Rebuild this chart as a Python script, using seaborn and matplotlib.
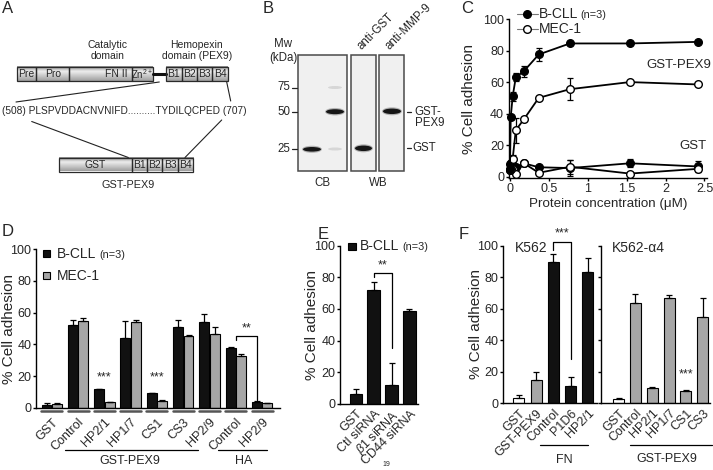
import numpy as np
import pandas as pd
import matplotlib
matplotlib.use("Agg")
import matplotlib.pyplot as plt
import matplotlib.transforms as mtrans
from matplotlib.patches import Rectangle, Ellipse
from matplotlib.lines import Line2D
import seaborn as sns

sns.set_style("ticks")
plt.rcParams["font.family"] = ["Liberation Sans", "DejaVu Sans"]
plt.rcParams["mathtext.fontset"] = "custom"
plt.rcParams["mathtext.rm"] = "Liberation Sans"
plt.rcParams["mathtext.it"] = "Liberation Sans:italic"
plt.rcParams["axes.edgecolor"] = "black"

# ---------------- data ----------------
# Panel A (domain labels)
a_top_domains = ["Pre", "Pro", "FN II", "Zn$^{2+}$"]
a_pex_blades = ["B1", "B2", "B3", "B4"]
a_sequence = "(508) PLSPVDDACNVNIFD..........TYDILQCPED (707)"
# Panel B
b_mw_ticks = [75, 50, 25]
# Panel C
c_conc = [0, 0.01, 0.035, 0.075, 0.18, 0.37, 0.77, 1.54, 2.42]
c_bcll_pex9 = [5, 38, 51, 63, 67, 77.5, 84.5, 84.5, 85.5]
c_bcll_pex9_err = [0, 0, 3, 2.5, 3.5, 4, 1, 1, 1]
c_mec1_pex9 = [4, 5, 11.5, 29.5, 36.5, 50, 55.5, 60, 58.5]
c_mec1_pex9_err = [0, 0, 2, 8, 1, 1, 7, 1, 1]
c_bcll_gst = [8, 8.5, 7, 6, 8.5, 6, 5.5, 8.5, 6.5]
c_bcll_gst_err = [0, 0, 1, 1, 1, 1, 5, 2.5, 3.5]
c_mec1_gst = [4, 5.5, 5, 2, 8.5, 2.5, 6.3, 2, 5]
c_mec1_gst_err = [0, 0, 1, 1, 1, 1, 4.5, 0.5, 1]
c_xticks = [0, 0.5, 1, 1.5, 2, 2.5]
c_xticklabels = ["0", "0.5", "1", "1.5", "2", "2.5"]
# Panel D
d_keys = ["GST", "Control", "HP2/1", "HP1/7", "CS1", "CS3", "HP2/9", "HA Control", "HA HP2/9"]
d_labels = ["GST", "Control", "HP2/1", "HP1/7", "CS1", "CS3", "HP2/9", "Control", "HP2/9"]
d_bcll = [2, 52, 11.6, 43.8, 9, 51, 54, 38, 3.8]
d_bcll_err = [1, 3.2, 0.3, 11, 0.3, 4.2, 5, 0.3, 0.2]
d_mec1 = [2.5, 55, 3.4, 53.9, 4.2, 45.3, 46.5, 32.4, 2.7]
d_mec1_err = [0.6, 1.5, 0.4, 1.5, 0.6, 0.3, 4.2, 1.3, 0.5]
# Panel E
e_keys = ["GST", "Ctl siRNA", r"$\beta$1 siRNA", "CD44 siRNA"]
e_vals = [6, 72, 12, 58.6]
e_errs = [3, 5.2, 13.5, 1.3]
# Panel F
f_left_keys = ["GST", "GST-PEX9", "Control", "P1D6", "HP2/1"]
f_left_vals = [3, 14.4, 89.8, 10.6, 83.5]
f_left_errs = [1.9, 5.5, 4.7, 6.1, 8.4]
f_right_keys = ["GST", "Control", "HP2/1", "HP1/7", "CS1", "CS3"]
f_right_vals = [2.5, 63.3, 9.5, 66.9, 7.6, 54.4]
f_right_errs = [0.4, 5.7, 0.4, 1.7, 0.4, 12.5]

BLACK = "#111111"
GRAY = "#a6a6a6"
W, H = 713, 470
fig = plt.figure(figsize=(W / 100, H / 100), dpi=100)


def R(l, t, r, b):
    return [l / W, (H - b) / H, (r - l) / W, (b - t) / H]


def style(ax):
    sns.despine(ax=ax)
    ax.tick_params(axis="both", labelsize=9, length=2.2, width=1, color="black", pad=1.2)
    for s in ("left", "bottom"):
        ax.spines[s].set_linewidth(1)
        ax.spines[s].set_color("black")
    ax.set_facecolor("none")


def bar_errs(ax, errs):
    patches = sorted([p for c in ax.containers if isinstance(c, matplotlib.container.BarContainer)
                      for p in c.patches], key=lambda p: p.get_x())
    xs = [p.get_x() + p.get_width() / 2 for p in patches]
    hs = [p.get_height() for p in patches]
    ax.errorbar(xs, hs, yerr=[np.zeros(len(errs)), errs], fmt="none", ecolor="black",
                elinewidth=0.9, capsize=2.5, capthick=0.9, zorder=3)


# overlay in pixel coordinates
ov = fig.add_axes([0, 0, 1, 1], zorder=5)
ov.set_xlim(0, W)
ov.set_ylim(H, 0)
ov.set_autoscale_on(False)
ov.axis("off")

# ---------------- Panel A ----------------
prof_y = np.linspace(0, 1, 40)
prof = np.interp(prof_y, [0, 0.35, 1], [0.55, 0.93, 0.62])
grad = np.tile(prof[:, None], (1, 2))


def gbox(x0, x1, y0, y1, label, tx=None, fs=7.5):
    ov.imshow(grad, extent=(x0, x1, y1, y0), cmap="gray", vmin=0, vmax=1, aspect="auto",
              interpolation="bilinear", zorder=1)
    ov.add_patch(Rectangle((x0, y0), x1 - x0, y1 - y0, fill=False, ec="#2a2a2a", lw=0.9, zorder=2))
    ov.text((x0 + x1) / 2 if tx is None else tx, (y0 + y1) / 2 + 0.5, label, ha="center", va="center",
            fontsize=fs, zorder=3)


ty0, ty1 = 66.5, 81
edges_top = [17.3, 36, 69.3, 131.7, 152.7]
tx_top = [None, None, 116, None]
for i, lab in enumerate(a_top_domains):
    gbox(edges_top[i], edges_top[i + 1], ty0, ty1, lab, tx_top[i], fs=7.5 if i < 3 else 7)
ov.add_line(Line2D([152.7, 165.7], [73.5, 73.5], color="#111", lw=2.2, zorder=2))
edges_b = [165.7, 181.7, 196.7, 212.3, 227.7]
for i, lab in enumerate(a_pex_blades):
    gbox(edges_b[i], edges_b[i + 1], ty0, ty1, lab, fs=7.5)
ov.text(108, 45, "Catalytic", ha="center", va="center", fontsize=7.5)
ov.text(108, 56, "domain", ha="center", va="center", fontsize=7.5)
ov.text(196.7, 45, "Hemopexin", ha="center", va="center", fontsize=7.5)
ov.text(196.7, 56, "domain (PEX9)", ha="center", va="center", fontsize=7.5)
ov.add_line(Line2D([159.3, 16], [82, 102], color="#222", lw=0.8))
ov.add_line(Line2D([226.7, 230.7], [82, 101], color="#222", lw=0.8))
ov.text(1.5, 111.5, a_sequence, ha="left", va="center", fontsize=7.3)
ov.add_line(Line2D([31.7, 128.3], [121.5, 157.5], color="#222", lw=0.8))
ov.add_line(Line2D([221.7, 185], [120, 157.5], color="#222", lw=0.8))
gy0, gy1 = 157.5, 171.5
edges_g = [59.3, 131.7, 146.7, 162.3, 177.7, 193.3]
for i, lab in enumerate(["GST"] + a_pex_blades):
    gbox(edges_g[i], edges_g[i + 1], gy0, gy1, lab, fs=7.5)
ov.text(127.7, 184.5, "GST-PEX9", ha="center", va="center", fontsize=7.8)

# ---------------- Panel B ----------------
gels = [(298.3, 346.7), (351.3, 375.7), (379.3, 404)]
gy_top, gy_bot = 55, 170.7
for x0, x1 in gels:
    ov.add_patch(Rectangle((x0, gy_top), x1 - x0, gy_bot - gy_top, fc="#f0f0f0", ec="#4a4a4a", lw=1.1, zorder=1))
mw_y = {75: 87.5, 50: 111.7, 25: 149}
for m in b_mw_ticks:
    ov.add_line(Line2D([291.7, 297.3], [mw_y[m], mw_y[m]], color="#222", lw=0.9))
    ov.text(290, mw_y[m], str(m), ha="right", va="center", fontsize=8.3)
ov.text(283, 44, "Mw", ha="center", va="center", fontsize=8.3)
ov.text(283, 58.5, "(kDa)", ha="center", va="center", fontsize=8.3)


def band(xc, yc, w, h, dark=True):
    if dark:
        ov.add_patch(Ellipse((xc, yc), w + 2, h + 2.5, fc="#777", ec="none", alpha=0.5, zorder=2))
        ov.add_patch(Ellipse((xc, yc), w, h, fc="#161616", ec="none", zorder=3))
    else:
        ov.add_patch(Ellipse((xc, yc), w, h, fc="#d6d6d6", ec="none", zorder=2))


band(312, 149.3, 18, 4.6)
band(335, 111.7, 18, 5)
band(335, 87.5, 14, 3, dark=False)
band(335, 149, 14, 3, dark=False)
band(363.5, 148.3, 17, 5.5)
band(392, 111.3, 18, 5.5)
ov.text(322.5, 182.5, "CB", ha="center", va="center", fontsize=8.3)
ov.text(378, 182.5, "WB", ha="center", va="center", fontsize=8.3)
ov.text(362, 50, "anti-GST", rotation=45, rotation_mode="anchor", ha="left", va="baseline", fontsize=8.3)
ov.text(390, 50, "anti-MMP-9", rotation=45, rotation_mode="anchor", ha="left", va="baseline", fontsize=8.3)
ov.add_line(Line2D([406.7, 411.2], [111.7, 111.7], color="#222", lw=0.9))
ov.text(414.5, 111.7, "GST-", ha="left", va="center", fontsize=8.3)
ov.text(414.5, 123.5, "PEX9", ha="left", va="center", fontsize=8.3)
ov.add_line(Line2D([406.7, 411.2], [148.3, 148.3], color="#222", lw=0.9))
ov.text(412.5, 148.3, "GST", ha="left", va="center", fontsize=8.3)

# ---------------- Panel C ----------------
axC = fig.add_axes(R(508.8, 19, 706.8, 178.3))
c_series = [(c_bcll_gst, c_bcll_gst_err, "black"), (c_mec1_gst, c_mec1_gst_err, "white"),
            (c_mec1_pex9, c_mec1_pex9_err, "white"), (c_bcll_pex9, c_bcll_pex9_err, "black")]
for vals, errs, fc in c_series:
    axC.errorbar(c_conc, vals, yerr=errs, fmt="none", ecolor="black", elinewidth=0.9,
                 capsize=2.3, capthick=0.9, zorder=2, clip_on=False)
    sns.lineplot(x=c_conc, y=vals, ax=axC, color="black", linewidth=1.3, marker="o",
                 markersize=5.5, markerfacecolor=fc, markeredgecolor="black",
                 markeredgewidth=1.0, zorder=3, clip_on=False)
axC.set_xlim(-0.015, 2.53)
axC.set_ylim(-1, 100)
axC.set_xticks(c_xticks)
axC.set_xticklabels(c_xticklabels)
axC.set_yticks([0, 20, 40, 60, 80, 100])
style(axC)
axC.set_xlabel("Protein concentration (\u03bcM)", fontsize=9.6)
axC.xaxis.set_label_coords(0.5, -0.125)
axC.set_ylabel("% Cell adhesion", fontsize=11)
axC.yaxis.set_label_coords(-0.165, 0.5)
ov.text(678.5, 65, "GST-PEX9", ha="center", va="center", fontsize=9.5)
ov.text(693, 145.7, "GST", ha="center", va="center", fontsize=9.5)
for yy, fc, lab in [(14, "black", "B-CLL"), (29, "white", "MEC-1")]:
    ov.add_line(Line2D([517, 537.5], [yy, yy], color="#777", lw=0.8, zorder=2))
    ov.add_line(Line2D([527.3], [yy], marker="o", ms=5.5, mfc=fc, mec="black", mew=1, zorder=3))
    ov.text(539, yy, lab, ha="left", va="center", fontsize=10)
ov.text(580.7, 14.5, "(n=3)", ha="left", va="center", fontsize=7.8)

# ---------------- Panel D ----------------
axD = fig.add_axes(R(36, 249.3, 280, 407.7))
df_d = pd.DataFrame({"cond": d_keys * 2, "cell": ["B-CLL"] * 9 + ["MEC-1"] * 9, "pct": d_bcll + d_mec1})
sns.barplot(data=df_d, x="cond", y="pct", hue="cell", order=d_keys, hue_order=["B-CLL", "MEC-1"],
            palette=[BLACK, GRAY], edgecolor="black", linewidth=0.8, width=0.8, gap=0.06,
            errorbar=None, legend=False, ax=axD)
bar_errs(axD, [v for pair in zip(d_bcll_err, d_mec1_err) for v in pair])
axD.set_xlim(-0.6, 8.68)
axD.set_ylim(0, 100)
axD.set_yticks([0, 20, 40, 60, 80, 100])
style(axD)
axD.set_xticks(range(len(d_labels)))
axD.set_xticklabels(d_labels, rotation=45, ha="right", rotation_mode="anchor")
axD.tick_params(axis="x", length=0, pad=6)
axD.set_xlabel("")
axD.set_ylabel("% Cell adhesion", fontsize=11)
axD.yaxis.set_label_coords(-0.084, 0.5)
trD = mtrans.blended_transform_factory(axD.transData, axD.transAxes)
for i in range(len(d_keys)):
    axD.add_line(Line2D([i - 0.4, i + 0.4], [-0.022, -0.022], transform=trD, color="#555",
                        lw=1.8, clip_on=False))
for xi in (2, 4):
    axD.text(xi, 19, "***", ha="center", va="center", fontsize=9)
axD.plot([7.0, 7.0, 7.8, 7.8], [43, 45.5, 45.5, 5], color="black", lw=0.9, clip_on=False)
axD.text(7.4, 50, "**", ha="center", va="center", fontsize=9)
ov.add_patch(Rectangle((43.3, 250.2), 7, 7, fc=BLACK, ec="black", lw=0.8))
ov.text(57.3, 254, "B-CLL", ha="left", va="center", fontsize=10)
ov.text(99.3, 254.5, "(n=3)", ha="left", va="center", fontsize=7.8)
ov.add_patch(Rectangle((43.3, 271.8), 7, 7, fc=GRAY, ec="black", lw=0.8))
ov.text(57.3, 275.5, "MEC-1", ha="left", va="center", fontsize=10)
ov.add_line(Line2D([65, 198.3], [450, 450], color="black", lw=0.9))
ov.text(130, 461.5, "GST-PEX9", ha="center", va="center", fontsize=9)
ov.add_line(Line2D([218.3, 266.7], [450, 450], color="black", lw=0.9))
ov.text(244, 461, "HA", ha="center", va="center", fontsize=9)

# ---------------- Panel E ----------------
axE = fig.add_axes(R(340, 245.7, 418, 403.7))
sns.barplot(x=e_keys, y=e_vals, hue=e_keys, palette=[BLACK] * 4, edgecolor="black", linewidth=0.8,
            width=0.72, errorbar=None, legend=False, ax=axE)
bar_errs(axE, e_errs)
axE.set_xlim(-0.9, 3.48)
axE.set_ylim(0, 100)
axE.set_yticks([0, 20, 40, 60, 80, 100])
style(axE)
axE.set_xticks(range(len(e_keys)))
axE.set_xticklabels(e_keys, rotation=45, ha="right", rotation_mode="anchor")
axE.tick_params(axis="x", length=0, pad=3)
axE.set_ylabel("% Cell adhesion", fontsize=11)
axE.yaxis.set_label_coords(-0.27, 0.5)
axE.plot([1, 1, 2, 2], [80, 82.5, 82.5, 35], color="black", lw=0.9, clip_on=False)
axE.text(1.5, 87.5, "**", ha="center", va="center", fontsize=9)
ov.add_patch(Rectangle((348.3, 242.8), 7.5, 7.5, fc=BLACK, ec="black", lw=0.8))
ov.text(360, 246.5, "B-CLL", ha="left", va="center", fontsize=10)
ov.text(402, 247, "(n=3)", ha="left", va="center", fontsize=7.8)

# ---------------- Panel F ----------------
axF1 = fig.add_axes(R(503, 245.7, 596.6, 403))
sns.barplot(x=f_left_keys, y=f_left_vals, hue=f_left_keys,
            palette=dict(zip(f_left_keys, ["white", GRAY, BLACK, BLACK, BLACK])),
            edgecolor="black", linewidth=0.8, width=0.64, errorbar=None, legend=False, ax=axF1)
bar_errs(axF1, f_left_errs)
axF1.set_xlim(-0.91, 4.5)
axF1.set_ylim(0, 100)
axF1.set_yticks([0, 20, 40, 60, 80, 100])
style(axF1)
axF1.set_xticks(range(len(f_left_keys)))
axF1.set_xticklabels(f_left_keys, rotation=45, ha="right", rotation_mode="anchor")
axF1.tick_params(axis="x", length=0, pad=3)
axF1.set_ylabel("% Cell adhesion", fontsize=11)
axF1.yaxis.set_label_coords(-0.21, 0.5)
axF1.plot([2, 2, 3, 3], [97, 102.5, 102.5, 28], color="black", lw=0.9, clip_on=False)
axF1.text(2.5, 108, "***", ha="center", va="center", fontsize=9)

axF2 = fig.add_axes(R(601, 245.7, 709.9, 403))
sns.barplot(x=f_right_keys, y=f_right_vals, hue=f_right_keys,
            palette=dict(zip(f_right_keys, ["white"] + [GRAY] * 5)),
            edgecolor="black", linewidth=0.8, width=0.65, errorbar=None, legend=False, ax=axF2)
bar_errs(axF2, f_right_errs)
axF2.set_xlim(-1.05, 5.43)
axF2.set_ylim(0, 100)
axF2.set_yticks([0, 20, 40, 60, 80, 100])
style(axF2)
axF2.tick_params(axis="y", labelleft=False)
axF2.set_xticks(range(len(f_right_keys)))
axF2.set_xticklabels(f_right_keys, rotation=45, ha="right", rotation_mode="anchor")
axF2.tick_params(axis="x", length=0, pad=3)
axF2.set_ylabel("")
axF2.text(4, 18, "***", ha="center", va="center", fontsize=9)
ov.text(515, 248, "K562", ha="left", va="center", fontsize=10)
ov.text(611.7, 248, "K562-\u03b14", ha="left", va="center", fontsize=10)
ov.add_line(Line2D([540, 588.3], [445, 445], color="black", lw=0.9))
ov.text(564, 460, "FN", ha="center", va="center", fontsize=9)
ov.add_line(Line2D([630, 711.7], [445, 445], color="black", lw=0.9))
ov.text(666.7, 459.5, "GST-PEX9", ha="center", va="center", fontsize=9)

# ---------------- panel letters & page number ----------------
for (x, y, s) in [(1.5, 1, "A"), (263, 1, "B"), (461, 1, "C"), (1.5, 224, "D"), (318, 227, "E"), (459, 227, "F")]:
    ov.text(x, y, s, ha="left", va="top", fontsize=12)
ov.text(386, 465, "19", ha="center", va="center", fontsize=5)

fig.savefig("out.png", dpi=100)
